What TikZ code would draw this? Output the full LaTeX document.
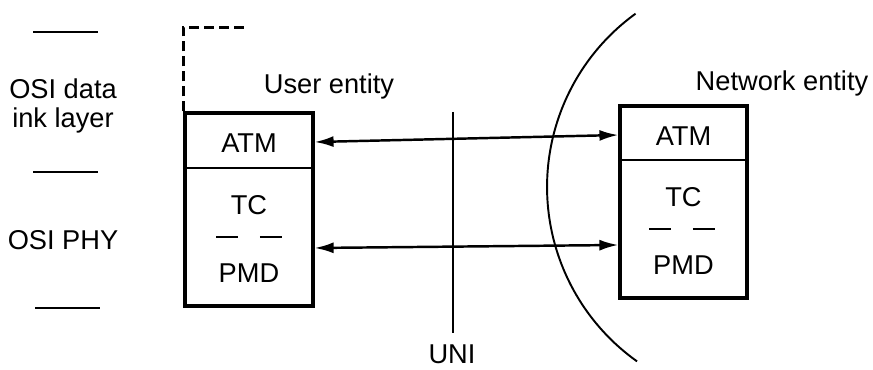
\documentclass[tikz,border=0pt]{standalone}
\usepackage{fontspec}
\setmainfont{Liberation Sans}
\usetikzlibrary{arrows.meta,calc}

\begin{document}
\begin{tikzpicture}[
    x=0.02cm, y=0.02cm,
    font=\fontsize{15.5}{16}\selectfont,
    layerbox/.style={
        draw=black,
        line width=1.8pt,
        minimum width=2.56cm,
        minimum height=3.86cm,
        inner sep=0pt
    },
    layertext/.style={inner sep=1pt},
    sublayer/.style={line width=1.3pt, dash pattern=on 0.44cm off 0.44cm},
    osirule/.style={line width=1.4pt},
    link/.style={{Latex[length=3.8mm,width=2.2mm]}-{Latex[length=3.8mm,width=2.2mm]}, line width=1.4pt}
]
    \useasboundingbox (0,0) rectangle (873,369);

    % OSI layers on the left
    \draw[osirule] (33,337) -- (98,337);
    \draw[osirule] (33,197) -- (98,197);
    \draw[osirule] (35,61) -- (100,61);
    \node[align=center] (osidata) at (63,263) {OSI data\\ink layer};
    \node (osiphy) at (63,129) {OSI PHY};

    % User entity
    \node[layerbox] (userbox) at (249,159.5) {};
    \node (userlabel) at (329,283) {User entity};
    \draw[line width=1.2pt] (185,201) -- (313,201);
    \node[layertext] (useratm) at (249,226) {ATM};
    \node[layertext] (usertc) at (249,164) {TC};
    \node[layertext] (userpmd) at (249,96) {PMD};
    \draw[sublayer] (216,132) -- (282,132);
    \draw[line width=1.5pt, dash pattern=on 0.2cm off 0.1cm] (userbox.north west) -- ++(0,84) -- ++(62,0);

    % Network entity
    \node[layerbox, minimum width=2.54cm, minimum height=3.84cm] (netbox) at (683.5,167) {};
    \node (netlabel) at (782,286) {Network entity};
    \draw[line width=1.2pt] (620,209) -- (747,209);
    \node[layertext] (netatm) at (683.5,233) {ATM};
    \node[layertext] (nettc) at (683.5,172) {TC};
    \node[layertext] (netpmd) at (683.5,104) {PMD};
    \draw[sublayer] (649,140) -- (715,140);

    % Network boundary
    \coordinate (arccentre) at (761,182);
    \draw[line width=1.1pt] (arccentre) ++(125.9:4.28cm) arc[start angle=125.9, end angle=234.6, radius=4.28cm];

    % UNI
    \coordinate (unitop) at (453,257);
    \coordinate (unibottom) at (453,36);
    \draw[line width=1.1pt] (unitop) -- (unibottom);
    \node (unilabel) at (452,15) {UNI};

    % Peer links
    \draw[link] ([yshift=1.35cm]userbox.east) -- ([yshift=1.34cm]netbox.west);
    \draw[link] ([yshift=-0.77cm]userbox.east) -- ([yshift=-0.86cm]netbox.west);
\end{tikzpicture}
\end{document}
